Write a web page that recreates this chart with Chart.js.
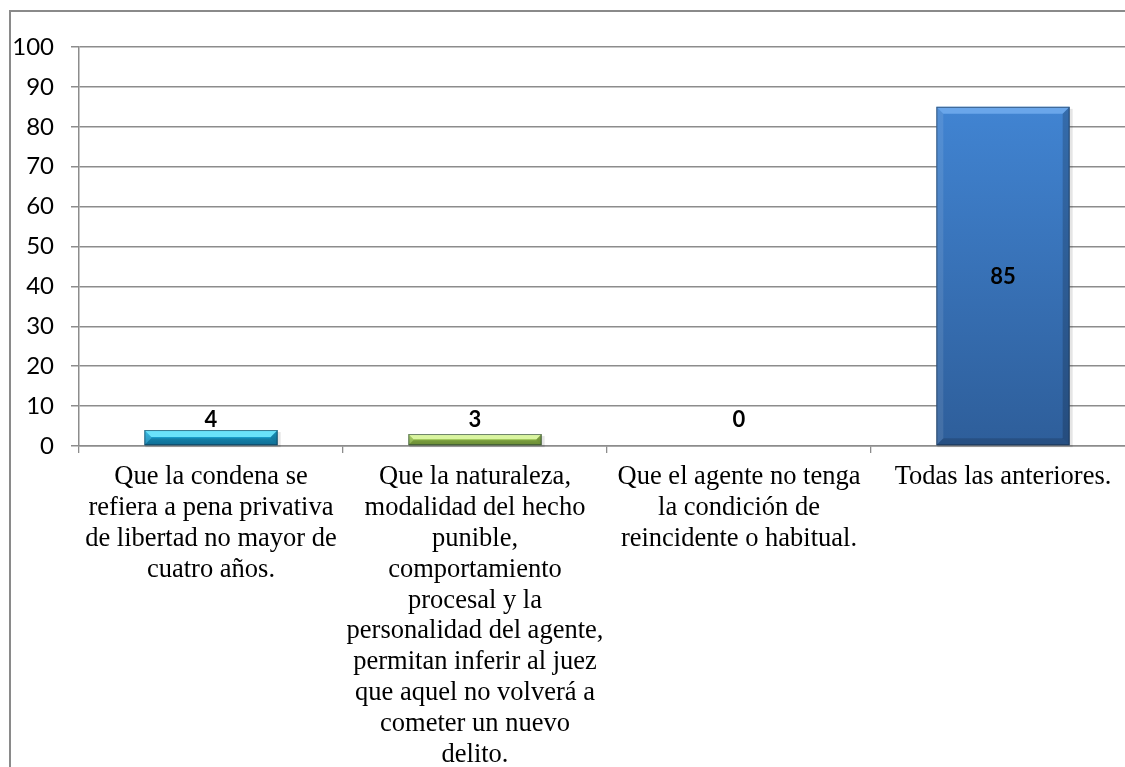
<!DOCTYPE html>
<html>
<head>
<meta charset="utf-8">
<script src="https://cdn.jsdelivr.net/npm/chart.js@4.4.1/dist/chart.umd.min.js"></script>
<style>
  html, body { margin: 0; padding: 0; background: #ffffff; overflow: hidden; }
  #wrap { position: absolute; left: 0; top: 0; width: 1150px; height: 767px; }
</style>
</head>
<body>
<div id="wrap"><canvas id="c" width="1150" height="767"></canvas></div>
<script>
// ---- data ----
const categories = [
  ["Que la condena se", "refiera a pena privativa", "de libertad no mayor de", "cuatro años."],
  ["Que la naturaleza,", "modalidad del hecho", "punible,", "comportamiento", "procesal y la", "personalidad del agente,", "permitan inferir al juez", "que aquel no volverá a", "cometer un nuevo", "delito."],
  ["Que el agente no tenga", "la condición de", "reincidente o habitual."],
  ["Todas las anteriores."]
];
const values = [4, 3, 0, 85];
const yTicks = { min: 0, max: 100, step: 10 };

// ---- styles ----
const barMain = ["#20b4e2", "#a3cd58", "#c0c0c0", "#4184d2"];
const barLight = ["#6ae2fa", "#daf5a0", "#e0e0e0", "#6aa6ea"];
const barDark = ["#1382b0", "#7ea63e", "#909090", "#2e5e9a"];
const gridColor = "#8c8c8c";

const framePlugin = {
  id: "frame",
  beforeDraw(chart) {
    const ctx = chart.ctx;
    ctx.save();
    ctx.fillStyle = "#ffffff";
    ctx.fillRect(0, 0, chart.width, chart.height);
    ctx.strokeStyle = "#8a8a8a";
    ctx.lineWidth = 2;
    ctx.strokeRect(10, 11, chart.width + 20, chart.height + 20);
    ctx.restore();
  }
};

const bevelPlugin = {
  id: "bevel",
  afterDatasetsDraw(chart) {
    const ctx = chart.ctx;
    const meta = chart.getDatasetMeta(0);
    meta.data.forEach((bar, i) => {
      const { x, y, base, width } = bar.getProps(["x", "y", "base", "width"], true);
      const h = base - y;
      if (h <= 0.5) return;
      const l = x - width / 2, r = x + width / 2;
      const b = Math.min(7, h / 2.2);
      ctx.save();
      // soft shadow
      ctx.fillStyle = "rgba(0,0,0,0.10)";
      ctx.fillRect(l + 1, y + 2, width + 2, h);
      // body gradient
      const g = ctx.createLinearGradient(0, y, 0, base);
      g.addColorStop(0, barMain[i]);
      g.addColorStop(1, barDark[i]);
      ctx.fillStyle = g;
      ctx.fillRect(l, y, width, h);
      // top bevel
      ctx.fillStyle = barLight[i];
      ctx.beginPath();
      ctx.moveTo(l, y); ctx.lineTo(r, y); ctx.lineTo(r - b, y + b); ctx.lineTo(l + b, y + b); ctx.closePath();
      ctx.fill();
      // left bevel
      ctx.fillStyle = "rgba(255,255,255,0.10)";
      ctx.beginPath();
      ctx.moveTo(l, y); ctx.lineTo(l + b, y + b); ctx.lineTo(l + b, base - b); ctx.lineTo(l, base); ctx.closePath();
      ctx.fill();
      // right bevel
      ctx.fillStyle = "rgba(0,0,0,0.18)";
      ctx.beginPath();
      ctx.moveTo(r, y); ctx.lineTo(r - b, y + b); ctx.lineTo(r - b, base - b); ctx.lineTo(r, base); ctx.closePath();
      ctx.fill();
      // bottom bevel
      ctx.fillStyle = "rgba(0,0,0,0.15)";
      ctx.beginPath();
      ctx.moveTo(l, base); ctx.lineTo(l + b, base - b); ctx.lineTo(r - b, base - b); ctx.lineTo(r, base); ctx.closePath();
      ctx.fill();
      // outline
      ctx.strokeStyle = "rgba(20,40,60,0.55)";
      ctx.lineWidth = 1;
      ctx.strokeRect(l + 0.5, y + 0.5, width - 1, h - 1);
      ctx.restore();
    });
  }
};

const labelPlugin = {
  id: "valueLabels",
  afterDatasetsDraw(chart) {
    const ctx = chart.ctx;
    const meta = chart.getDatasetMeta(0);
    const ys = chart.scales.y;
    ctx.save();
    ctx.font = "bold 22px Lato, 'Noto Sans', sans-serif";
    ctx.fillStyle = "#000000";
    ctx.textAlign = "center";
    meta.data.forEach((bar, i) => {
      const v = values[i];
      const { x, y, base } = bar.getProps(["x", "y", "base"], true);
      if (base - y > 60) {
        ctx.textBaseline = "middle";
        ctx.fillText(String(v), x, (y + base) / 2 + 1);
      } else {
        ctx.textBaseline = "alphabetic";
        const yb = Math.min(y - 3, ys.getPixelForValue(0) - 19);
        ctx.fillText(String(v), x, yb);
      }
    });
    ctx.restore();
  }
};

new Chart(document.getElementById("c"), {
  type: "bar",
  data: {
    labels: categories,
    datasets: [{
      data: values,
      backgroundColor: "rgba(0,0,0,0)",
      borderWidth: 0,
      categoryPercentage: 1.0,
      barPercentage: 0.505
    }]
  },
  options: {
    responsive: false,
    animation: false,
    events: [],
    layout: { padding: { top: 47, left: 0, right: 15, bottom: 0 } },
    plugins: { legend: { display: false }, tooltip: { enabled: false } },
    scales: {
      x: {
        afterFit(scale) { scale.height = 321; },
        grid: { drawOnChartArea: false, drawTicks: true, tickLength: 7, color: gridColor, lineWidth: 1.3, offset: true },
        border: { display: true, color: gridColor, width: 1.5 },
        ticks: {
          autoSkip: false, maxRotation: 0, minRotation: 0, padding: 9,
          color: "#000000",
          font: { family: "'Liberation Serif', 'Times New Roman', serif", size: 26.5, lineHeight: "30.8px" }
        }
      },
      y: {
        min: yTicks.min, max: yTicks.max,
        afterFit(scale) { scale.width = 79; },
        grid: { color: gridColor, lineWidth: 1.5, tickLength: 8, drawTicks: true },
        border: { display: true, color: gridColor, width: 1.5 },
        ticks: {
          stepSize: yTicks.step, padding: 17, color: "#000000",
          font: { family: "Lato, 'Noto Sans', sans-serif", size: 24 }
        }
      }
    }
  },
  plugins: [framePlugin, bevelPlugin, labelPlugin]
});
</script>
</body>
</html>
